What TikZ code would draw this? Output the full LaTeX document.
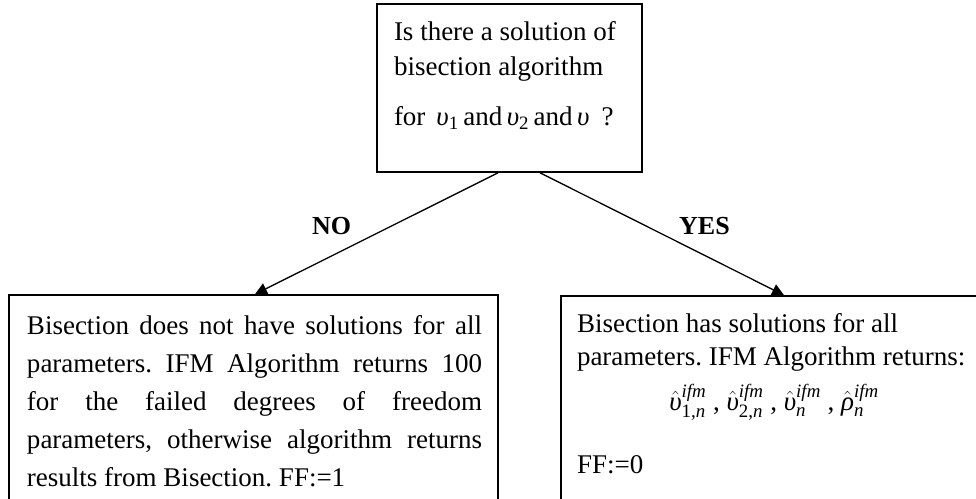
\documentclass[tikz,border=0pt]{standalone}
\usepackage{fontspec}
\usepackage{amsmath}
\setmainfont{Liberation Serif}
\usetikzlibrary{arrows.meta}

% Greek letters taken from the italic text font
\newcommand\ups{\text{\itshape υ}}
\newcommand\rh{\text{\itshape ρ}}
\newcommand\est[2]{\hat{#1}^{\text{\itshape ifm}}_{\text{#2}}}
\newcommand\fsz[2]{\fontsize{#1}{#2}\selectfont\frenchspacing\hyphenpenalty=10000\exhyphenpenalty=10000}

\begin{document}
\begin{tikzpicture}[x=1pt,y=-1pt,
  box/.style={draw,line width=1.6pt,fill=white,inner sep=0pt},
  txt/.style={inner sep=0pt,outer sep=0pt},
  conn/.style={line width=1.3pt,-{Triangle[length=12pt,width=12pt]}},
  lbl/.style={inner sep=0pt,font=\fsz{26pt}{30pt}\bfseries,anchor=base west}]

\useasboundingbox (0,0) rectangle (976,498);
\clip (0,0) rectangle (976,498);

% question box
\node[box,minimum width=265pt,minimum height=168pt] (q) at (509.5,88) {};
\node[txt,anchor=north west,align=left,font=\fsz{27pt}{35pt}] (qt) at (394,21.8)
  {Is there a solution of\\
   bisection algorithm\\[15pt]
   for\hspace{11pt}$\ups_{\text{1}}$\,and\,$\ups_{\text{2}}$\,and\,$\ups$\hspace{12pt}?};

% outcome boxes (they run past the lower edge)
\node[box,minimum width=489pt,minimum height=265pt] (nobox) at (253.5,427.5) {};
\node[box,minimum width=432pt,minimum height=264pt] (yesbox) at (777,428) {};

\node[txt,anchor=north west,text width=455pt,align=justify,font=\fsz{27pt}{38pt}] (nt) at (27,315.8)
  {Bisection does not have solutions for all\linebreak
   parameters. IFM Algorithm returns 100\linebreak
   for the failed degrees of freedom\linebreak
   parameters, otherwise algorithm returns\linebreak
   results from Bisection. FF:=1};

\node[txt,anchor=north west,align=left,font=\fsz{27pt}{33pt}] (yt) at (577,313.8)
  {Bisection has solutions for all\\
   parameters. IFM Algorithm returns:};
\node[txt,anchor=base,font=\fsz{27pt}{30pt}] (yf) at (774,410)
  {$\est{\ups}{1,\itshape n}\text{ , }\est{\ups}{2,\itshape n}\text{ , }\est{\ups}{\itshape n}\text{ , }\est{\rh}{\itshape n}$};
\node[txt,anchor=base west,font=\fsz{27pt}{30pt}] (yff) at (577,473) {FF:=0};

% branches
\draw[conn] ([xshift=-11.5pt]q.south) -- ([xshift=1.5pt]nobox.north);
\draw[conn] ([xshift=30.5pt]q.south) -- ([xshift=7pt]yesbox.north);

\node[lbl] (no) at (312,234) {NO};
\node[lbl] (yes) at (679,234) {YES};
\end{tikzpicture}
\end{document}
